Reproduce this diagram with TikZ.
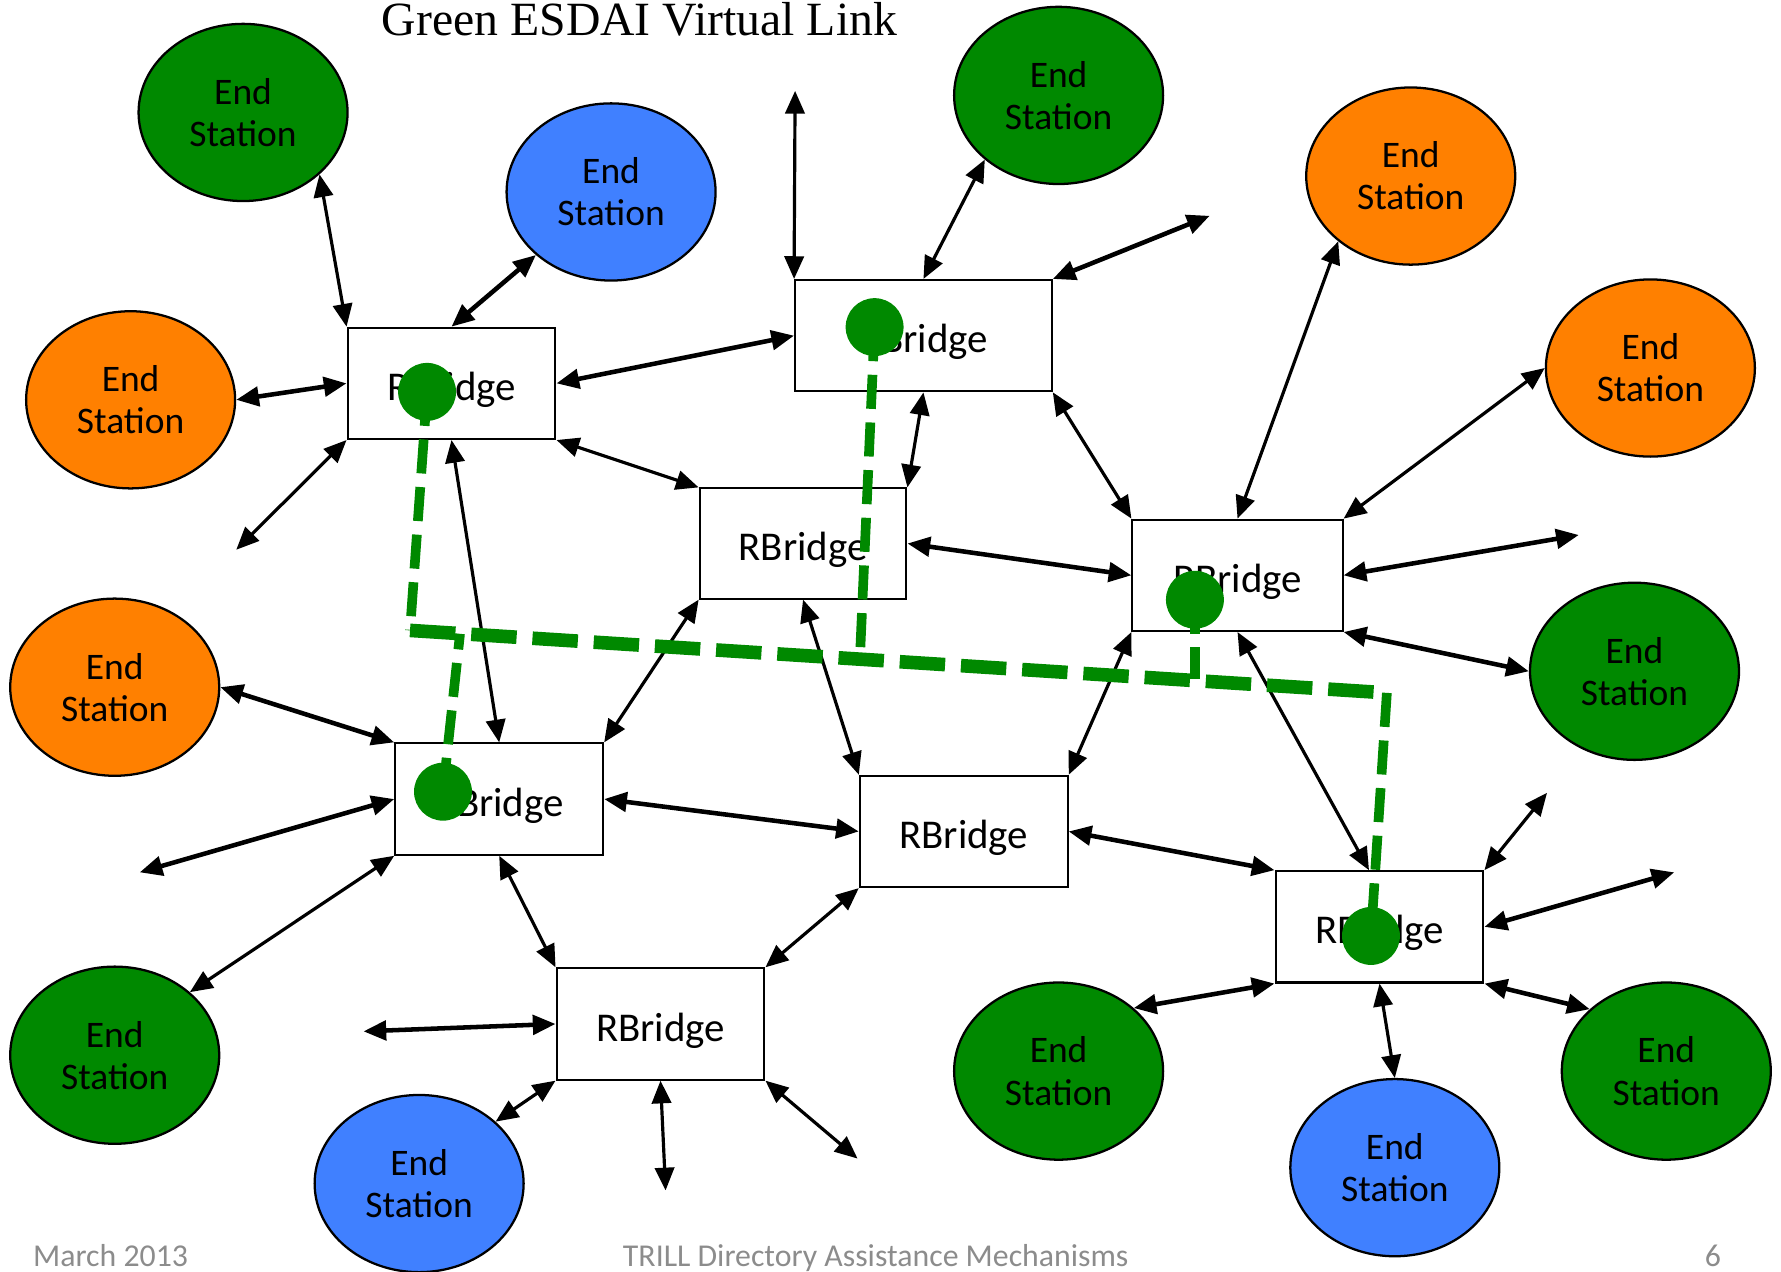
\documentclass[tikz,border=0pt]{standalone}
\usepackage{fontspec}
\setmainfont{Carlito}
\newfontfamily\titlefont{Liberation Serif}
\usetikzlibrary{arrows.meta,calc,shapes.geometric}
\definecolor{esgreen}{RGB}{0,137,0}
\definecolor{esorange}{RGB}{255,128,0}
\definecolor{esblue}{RGB}{64,128,255}
\definecolor{footgray}{RGB}{140,140,140}
\begin{document}
\begin{tikzpicture}[x=1pt,y=-1pt,
  es/.style={ellipse, draw=black, line width=2pt, minimum width=184pt, minimum height=156pt,
    inner sep=0pt, align=center, font=\fontsize{33}{37}\selectfont},
  esg/.style={es, fill=esgreen},
  eso/.style={es, fill=esorange},
  esb/.style={es, fill=esblue},
  rb/.style={rectangle, draw=black, line width=1.8pt, inner sep=0pt, minimum width=183pt,
    minimum height=98pt, font=\fontsize{36}{40}\selectfont, text height=30pt, text depth=0pt},
  link/.style={line width=2.8pt, {Triangle[length=20pt,width=17pt]}-{Triangle[length=20pt,width=17pt]}},
  linkt/.style={link, line width=4pt},
  gthin/.style={draw=esgreen, line width=8.5pt, dash pattern=on 30pt off 12pt},
  gthick/.style={draw=esgreen, line width=12pt, dash pattern=on 40pt off 14pt},
  gdot/.style={circle, fill=esgreen, minimum size=51pt, inner sep=0pt},
  foot/.style={anchor=base, text=footgray, font=\fontsize{28}{32}\selectfont}
]
\useasboundingbox (0,0) rectangle (1568,1119);

% title and footer
\node[anchor=base west, inner sep=0pt, font=\titlefont\fontsize{42}{46}\selectfont] (title) at (336,31) {Green ESDAI Virtual Link};
\node[foot, anchor=base west, inner sep=0pt] (fdate) at (29,1115) {March 2013};
\node[foot, inner sep=0pt] (ftitle) at (771,1115) {TRILL Directory Assistance Mechanisms};
\node[foot, inner sep=0pt] (fpage) at (1508,1115) {6};

% RBridges
\node[rb] (A) at (397.5,337.5) {RBridge};
\node[rb, minimum width=226pt] (B) at (813,295.5) {RBridge};
\node[rb, minimum width=182pt, minimum height=97pt] (C) at (707,478.5) {RBridge};
\node[rb, minimum width=185pt] (D) at (1089.5,506.5) {RBridge};
\node[rb] (E) at (439.5,703.5) {RBridge};
\node[rb] (F) at (848.5,732) {RBridge};
\node[rb] (G) at (1214.5,816) {RBridge};
\node[rb] (H) at (581.5,901.5) {RBridge};

% End stations
\node[esg] (e1) at (214,99) {End\\Station};
\node[esb] (e2) at (538,169) {End\\Station};
\node[eso] (e3) at (115,352) {End\\Station};
\node[esg] (e4) at (932,84) {End\\Station};
\node[eso] (e5) at (1242,155) {End\\Station};
\node[eso] (e6) at (1453,324) {End\\Station};
\node[eso] (e7) at (101,605) {End\\Station};
\node[esg] (e8) at (1439,591) {End\\Station};
\node[esg] (e9) at (101,929) {End\\Station};
\node[esb] (e10) at (369,1042) {End\\Station};
\node[esg] (e11) at (932,943) {End\\Station};
\node[esb] (e12) at (1228,1028) {End\\Station};
\node[esg] (e13) at (1467,943) {End\\Station};

% free ends
\coordinate (f1) at (208,484);
\coordinate (f2) at (700,80);
\coordinate (f3) at (1065,190);
\coordinate (f4) at (1390,471);
\coordinate (f5) at (123,768);
\coordinate (f6) at (1362,698);
\coordinate (f7) at (1474,768);
\coordinate (f8) at (320,908);
\coordinate (f9) at (586,1048);
\coordinate (f10) at (755,1020);

% connectors
\draw[link] (e1.-39) -- (A.north west);
\draw[linkt] (e2.220) -- (A.north);
\draw[linkt] (e3.east) -- (A.west);
\draw[link] (A.south west) -- (f1);
\draw[link] (f2) -- (B.north west);
\draw[link] (e4.-139) -- (B.north);
\draw[linkt] (B.north east) -- (f3);
\draw[linkt] (A.east) -- (B.west);
\draw[link] (e5.-138) -- (D.north);
\draw[link] (e6.west) -- (D.north east);
\draw[link] (B.south east) -- (D.north west);
\draw[link] (B.south) -- (C.north east);
\draw[link] (A.south east) -- (C.north west);
\draw[linkt] (C.east) -- (D.west);
\draw[linkt] (D.east) -- (f4);
\draw[linkt] (D.south east) -- (e8.west);
\draw[link] (A.south) -- (E.north);
\draw[linkt] (e7.east) -- (E.north west);
\draw[linkt] (E.west) -- (f5);
\draw[link] (E.south west) -- (e9.40);
\draw[link] (C.south west) -- (E.north east);
\draw[link] (C.south) -- (F.north west);
\draw[link] (D.south west) -- (F.north east);
\draw[linkt] (E.east) -- (F.west);
\draw[link] (E.south) -- (H.north west);
\draw[link] (F.south west) -- (H.north east);
\draw[link] (D.south) -- ($(G.north west)!0.45!(G.north east)$);
\draw[linkt] (F.east) -- (G.north west);
\draw[link] (G.north east) -- (f6);
\draw[linkt] (G.east) -- (f7);
\draw[linkt] (G.south west) -- (e11.40);
\draw[link] (G.south) -- (e12.north);
\draw[linkt] (G.south east) -- (e13.141);
\draw[linkt] (H.west) -- (f8);
\draw[link] (H.south west) -- (e10.39);
\draw[link] (H.south) -- (f9);
\draw[link] (H.south east) -- (f10);

% green virtual link
\node[gdot] (dA) at (376,345) {};
\node[gdot] (dB) at (770,288) {};
\node[gdot] (dD) at (1052,528) {};
\node[gdot] (dE) at (390,697) {};
\node[gdot] (dG) at (1207,824) {};
\coordinate (cL) at (361,555);
\coordinate (cR) at (1221,610);
\coordinate (jE) at (405,558);
\coordinate (jB) at (757,581);
\coordinate (jD) at (1052,598);
\draw[gthin] (dA.center) -- (cL);
\draw[gthick] (cL) -- (cR);
\draw[gthin] (dE.center) -- (jE);
\draw[gthin] (dB.center) -- (jB);
\draw[gthin] (dD.center) -- (jD);
\draw[gthin] (cR) -- (dG.center);
\end{tikzpicture}
\end{document}
